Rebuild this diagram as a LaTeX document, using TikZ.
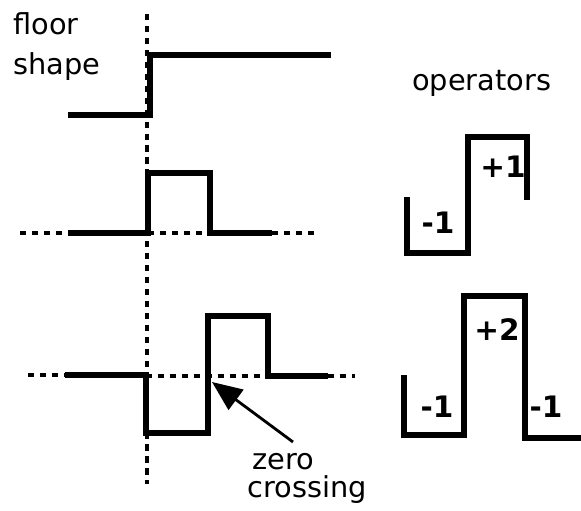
\documentclass[tikz,border=0pt]{standalone}
\usepackage{fontspec}
\setmainfont{DejaVu Sans}
\usetikzlibrary{arrows.meta}
\begin{document}
\begin{tikzpicture}[x=0.025cm,y=-0.025cm,
  wave/.style={line width=4.2pt},
  zeroline/.style={line width=2.2pt,dash pattern=on 4.5pt off 4pt},
  lbl/.style={font=\fontsize{20.5}{24}\selectfont,anchor=base west,inner sep=0pt},
  opnum/.style={font=\fontsize{21}{24}\selectfont\bfseries,inner sep=0pt}]
\useasboundingbox (0,0) rectangle (581,511);
% time zero
\draw[zeroline] (147,14) -- (147,484);
% floor shape
\draw[wave] (68,115) -- (150,115) -- (150,55) -- (331,55);
\node[lbl] (floorlbl) at (13,35) {floor};
\node[lbl] (shapelbl) at (13,75) {shape};
% first difference
\draw[zeroline] (20,233) -- (68,233);
\draw[zeroline] (148,233) -- (210,233);
\draw[zeroline] (272,233) -- (316,233);
\draw[wave] (68,233) -- (148,233) -- (148,173) -- (210,173) -- (210,233) -- (272,233);
% second difference
\draw[zeroline] (28,375) -- (65,375);
\draw[zeroline] (146,376) -- (268,376);
\draw[zeroline] (328,376) -- (355,376);
\draw[wave] (65,375) -- (146,375) -- (146,433) -- (208,433) -- (208,316) -- (268,316) -- (268,376) -- (328,376);
% zero crossing
\coordinate (zc) at (212,382);
\coordinate (zs) at (293,442);
\draw[line width=2pt,-{Triangle[length=0.75cm,width=0.62cm]}] (zs) -- (zc);
\node[lbl] (zerolbl) at (252,470) {zero};
\node[lbl] (crosslbl) at (247,498) {crossing};
% operators
\node[lbl] (oplbl) at (412,91) {operators};
\draw[wave] (407,197) -- (407,253) -- (468,253) -- (468,137) -- (527,137) -- (527,200);
\node[opnum] (opa) at (438,223) {-1};
\node[opnum] (opb) at (503,167) {+1};
\draw[wave] (404,375) -- (404,435) -- (464,435) -- (464,296) -- (525,296) -- (525,438) -- (581,438);
\node[opnum] (opc) at (437,407) {-1};
\node[opnum] (opd) at (497,330) {+2};
\node[opnum] (ope) at (546,407) {-1};
\end{tikzpicture}
\end{document}
